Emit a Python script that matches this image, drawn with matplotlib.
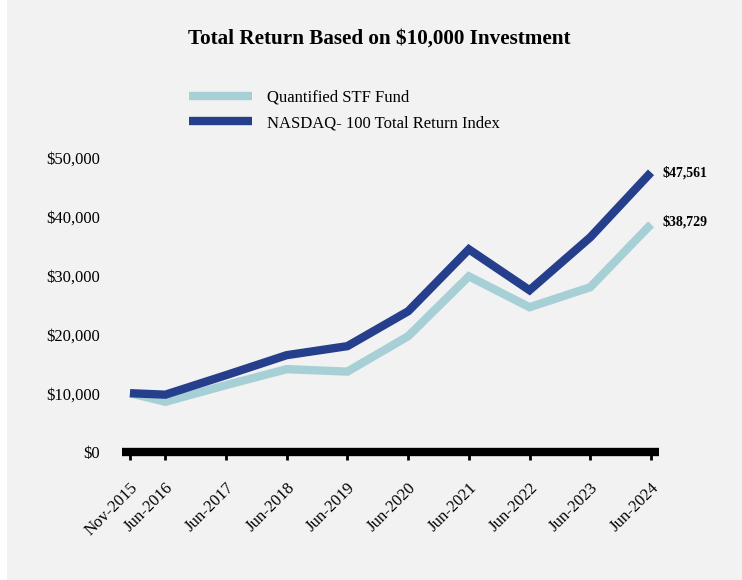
"""Growth of a $10,000 investment: Quantified STF Fund vs NASDAQ-100 TR."""

import matplotlib

matplotlib.use("Agg")
import matplotlib.dates as mdates
import matplotlib.pyplot as plt
import pandas as pd
from matplotlib.patches import Rectangle
from matplotlib.ticker import FuncFormatter

# Data
dates = pd.to_datetime(
    [
        "2015-11-30", "2016-06-30", "2017-06-30", "2018-06-30", "2019-06-30",
        "2020-06-30", "2021-06-30", "2022-06-30", "2023-06-30", "2024-06-30",
    ]
)
tick_labels = [
    "Nov-2015", "Jun-2016", "Jun-2017", "Jun-2018", "Jun-2019",
    "Jun-2020", "Jun-2021", "Jun-2022", "Jun-2023", "Jun-2024",
]
fund_values = [10000, 8540, 11380, 14090, 13670, 19700, 29880, 24620, 28020, 38729]
index_values = [10000, 9750, 13070, 16470, 18000, 23940, 34470, 27510, 36500, 47561]
fund_name = "Quantified STF Fund"
index_name = "NASDAQ- 100 Total Return Index"

colors = {
    "fund": "#A7D0D6",
    "index": "#263F8C",
    "background": "#F2F2F2",
}

plt.rcParams["font.family"] = ["Liberation Serif", "DejaVu Serif"]

fig = plt.figure(figsize=(7.42, 5.8), dpi=100)
fig.patch.set_facecolor("white")
fig.patches.append(
    Rectangle((7 / 742, 0), 1, 1, transform=fig.transFigure,
              facecolor=colors["background"], edgecolor="none", zorder=-10)
)

# axes: x 122..659 px, y 158..452 px (from top)
ax = fig.add_axes([122 / 742, (580 - 452) / 580, 537 / 742, 294 / 580])
ax.set_facecolor("none")

ax.plot(dates, fund_values, color=colors["fund"], lw=6, label=fund_name,
        solid_joinstyle="miter", solid_capstyle="butt", clip_on=False)
ax.plot(dates, index_values, color=colors["index"], lw=6, label=index_name,
        solid_joinstyle="miter", solid_capstyle="butt", clip_on=False)

ax.set_xlim(dates[0] - pd.Timedelta(days=48), dates[-1] + pd.Timedelta(days=48))
ax.set_ylim(0, 50000)
ax.set_yticks(range(0, 50001, 10000))
ax.yaxis.set_major_formatter(FuncFormatter(lambda v, _: f"${v:,.0f}"))
ax.set_xticks(mdates.date2num(dates))
ax.set_xticklabels(tick_labels, rotation=45, ha="right", rotation_mode="anchor")

for side in ["top", "right", "left"]:
    ax.spines[side].set_visible(False)
ax.spines["bottom"].set_linewidth(6)
ax.spines["bottom"].set_capstyle("butt")
ax.tick_params(axis="y", length=0, pad=16, labelsize=12)
ax.tick_params(axis="x", length=6, width=2, pad=14, labelsize=12, direction="out")

# end labels
ax.annotate(f"${index_values[-1]:,}", (dates[-1], index_values[-1]),
            xytext=(8, 0), textcoords="offset points", va="center",
            fontsize=10, fontweight="bold")
ax.annotate(f"${fund_values[-1]:,}", (dates[-1], fund_values[-1]),
            xytext=(8, 2), textcoords="offset points", va="center",
            fontsize=10, fontweight="bold")

fig.text(379 / 742, 1 - 39 / 580, "Total Return Based on $10,000 Investment",
         ha="center", va="center", fontsize=15.2, fontweight="bold")

ax.legend(loc="upper left", bbox_to_anchor=(174 / 742, 1 - 75 / 580),
          bbox_transform=fig.transFigure, frameon=False, fontsize=12,
          handlelength=3.8, handletextpad=0.9, labelspacing=0.55)

fig.savefig("out.png", dpi=100, facecolor=fig.get_facecolor())
